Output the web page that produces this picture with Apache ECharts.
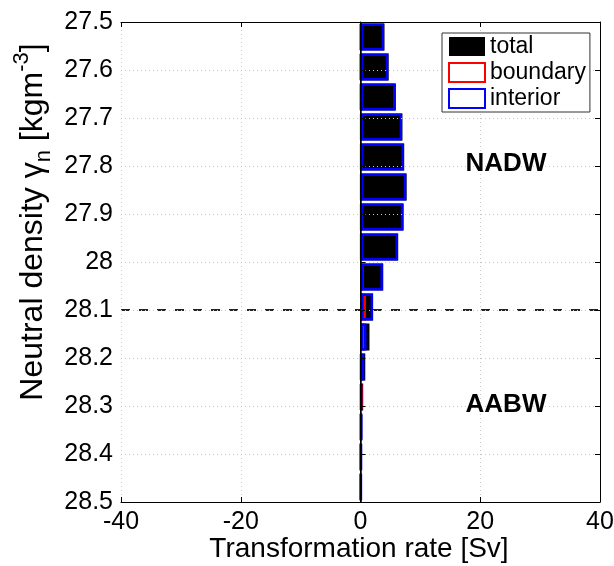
<!DOCTYPE html>
<html>
<head>
<meta charset="utf-8">
<script src="https://cdn.jsdelivr.net/npm/echarts@6/dist/echarts.min.js"></script>
<style>html,body{margin:0;padding:0;background:#fff}#c{width:614px;height:566px}</style>
</head>
<body>
<div id="c"></div>
<script>
// Density bin centres (16 bins of 1/16 between 27.5 and 28.5)
var densityBins = ['27.53','27.59','27.66','27.72','27.78','27.84','27.91','27.97',
                   '28.03','28.09','28.16','28.22','28.28','28.34','28.41','28.47'];
// Transformation rates [Sv]
var totalRate    = [4.0, 4.7, 5.9, 7.0, 7.3, 7.7, 7.2, 6.3, 3.8, 2.1, 1.5, 0.8, 0.45, 0.3, 0.2, 0.15];
var boundaryRate = [0.05, 0.05, 0.1, 0.2, 0.2, 0.2, 0.2, 0.2, 0.5, 0.9, 0.6, 0.15, 0.3, 0.05, 0.02, 0.01];
var interiorRate = [3.95, 4.65, 5.85, 6.95, 7.25, 7.65, 7.15, 6.25, 3.75, 2.1, 1.0, 0.65, 0.15, 0.25, 0.18, 0.14];
// Tick labels
var yTickLabels = ['27.5','27.6','27.7','27.8','27.9','28','28.1','28.2','28.3','28.4','28.5'];
var xTickLabels = ['-40','-20','0','20','40'];
var boundaryDensity = 28.1;
var yMin = 27.5, yMax = 28.5, xMin = -40, xMax = 40;

var FONT = "'Liberation Sans', Arial, sans-serif";
var chart = echarts.init(document.getElementById('c'));

var gridSplit = {show: true, lineStyle: {color: '#c8c8c8', type: [1, 3], width: 1}};

chart.setOption({
  animation: false,
  backgroundColor: '#fff',
  textStyle: {fontFamily: FONT},
  grid: {left: 121, right: 14, top: 22, bottom: 64, containLabel: false, outerBoundsMode: 'none'},
  legend: {
    data: ['total', 'boundary', 'interior'],
    orient: 'vertical',
    left: 442, top: 33,
    icon: 'rect',
    itemWidth: 36, itemHeight: 19, itemGap: 3,
    padding: [2, 4, 2, 6],
    borderColor: '#333', borderWidth: 1,
    backgroundColor: '#fff',
    z: 20,
    textStyle: {fontSize: 23, color: '#000', fontFamily: FONT, lineHeight: 19}
  },
  xAxis: [
    {
      type: 'value', min: xMin, max: xMax, interval: 20, position: 'bottom', z: 10,
      axisLine: {show: true, lineStyle: {color: '#000', width: 1}},
      axisTick: {show: true, inside: true, length: 5, lineStyle: {color: '#000'}},
      axisLabel: {fontSize: 25, color: '#000', fontFamily: FONT, margin: 8,
        formatter: function (v) { return xTickLabels[Math.round((v - xMin) / 20)]; }},
      splitLine: gridSplit
    },
    {
      type: 'value', min: xMin, max: xMax, interval: 20, position: 'top', z: 10,
      axisLine: {show: true, lineStyle: {color: '#000', width: 1}},
      axisTick: {show: true, inside: true, length: 5, lineStyle: {color: '#000'}},
      axisLabel: {show: false}, splitLine: {show: false}
    }
  ],
  yAxis: [
    {type: 'category', data: densityBins, inverse: true, show: false},
    {
      type: 'value', min: yMin, max: yMax, interval: 0.1, inverse: true, position: 'left', z: 10,
      axisLine: {show: true, lineStyle: {color: '#000', width: 1}},
      axisTick: {show: true, inside: true, length: 5, lineStyle: {color: '#000'}},
      axisLabel: {fontSize: 25, color: '#000', fontFamily: FONT, margin: 8,
        formatter: function (v) { return yTickLabels[Math.round((v - yMin) * 10)]; }},
      splitLine: gridSplit
    },
    {
      type: 'value', min: yMin, max: yMax, interval: 0.1, inverse: true, position: 'right', z: 10,
      axisLine: {show: true, lineStyle: {color: '#000', width: 1}},
      axisTick: {show: true, inside: true, length: 5, lineStyle: {color: '#000'}},
      axisLabel: {show: false}, splitLine: {show: false}
    }
  ],
  series: [
    {
      name: 'total', type: 'bar', xAxisIndex: 0, yAxisIndex: 0,
      data: totalRate, barWidth: '90%', barGap: '-100%',
      itemStyle: {color: '#000'},
      markLine: {
        silent: true, symbol: 'none', label: {show: false},
        lineStyle: {color: '#000', type: 'solid', width: 1.5},
        data: [{xAxis: 0}]
      }
    },
    {
      name: 'boundary', type: 'bar', xAxisIndex: 0, yAxisIndex: 0,
      data: boundaryRate, barWidth: '90%', barGap: '-100%',
      itemStyle: {color: 'rgba(0,0,0,0)', borderColor: '#ff0000', borderWidth: 2.5}
    },
    {
      name: 'interior', type: 'bar', xAxisIndex: 0, yAxisIndex: 0,
      data: interiorRate, barWidth: '90%', barGap: '-100%',
      itemStyle: {color: 'rgba(0,0,0,0)', borderColor: '#0000ff', borderWidth: 2.5}
    },
    {
      name: 'ref', type: 'line', xAxisIndex: 0, yAxisIndex: 1,
      data: [[0, boundaryDensity]], symbol: 'none', silent: true,
      lineStyle: {opacity: 0},
      markLine: {
        silent: true, symbol: 'none', label: {show: false},
        lineStyle: {color: '#222', type: [9, 9], width: 2},
        data: [{yAxis: boundaryDensity}]
      }
    }
  ],
  graphic: [
    {type: 'text', x: 506, y: 164, z: 30,
     style: {text: 'NADW', font: 'bold 26px ' + FONT, fill: '#000', align: 'center', verticalAlign: 'middle'}},
    {type: 'text', x: 506, y: 405, z: 30,
     style: {text: 'AABW', font: 'bold 26px ' + FONT, fill: '#000', align: 'center', verticalAlign: 'middle'}},
    {type: 'text', x: 359, y: 549, z: 30,
     style: {text: 'Transformation rate [Sv]', font: '28px ' + FONT, fill: '#000', align: 'center', verticalAlign: 'middle'}},
    {type: 'text', x: 33, y: 222, rotation: Math.PI / 2, z: 30,
     style: {
       text: '{m|Neutral density \u03b3}{sub|n}{m| [kgm}{sup|-3}{m|]}',
       align: 'center', verticalAlign: 'middle',
       rich: {
         m: {fontSize: 32, fontFamily: FONT, fill: '#000', lineHeight: 44, verticalAlign: 'middle'},
         sub: {fontSize: 22, fontFamily: FONT, fill: '#000', lineHeight: 22, verticalAlign: 'bottom'},
         sup: {fontSize: 22, fontFamily: FONT, fill: '#000', lineHeight: 22, verticalAlign: 'top'}
       }
     }}
  ]
});
</script>
</body>
</html>
